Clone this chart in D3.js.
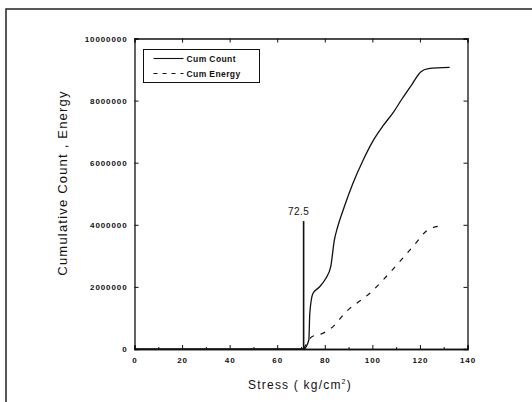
<!DOCTYPE html>
<html>
<head>
<meta charset="utf-8">
<script src="https://cdn.jsdelivr.net/npm/d3@7"></script>
<style>
  body { margin: 0; background: #fff; }
  text { font-family: "Liberation Sans", Arial, sans-serif; fill: #111; }
</style>
</head>
<body>
<svg id="chart" width="532" height="402"></svg>
<script>
'use strict';

/* data */
var countX = [0, 71.1, 73.3, 73.7, 75.0, 77.5, 80.4, 82.5, 84.0, 85.4, 88.2, 91.8, 96.1, 100.4, 104.6, 108.9, 112.5, 116.8, 120.3, 123.5, 132.5];
var countY = [0, 0, 290000, 1150000, 1790000, 1980000, 2270000, 2650000, 3500000, 3930000, 4580000, 5330000, 6080000, 6720000, 7200000, 7630000, 8060000, 8540000, 8920000, 9030000, 9070000];
var energyX = [71.1, 74.7, 79.0, 82.5, 89.0, 99.6, 108.9, 117.5, 123.2, 128.2];
var energyY = [0, 400000, 500000, 660000, 1200000, 1840000, 2590000, 3340000, 3830000, 3960000];
var xTicks = [0, 20, 40, 60, 80, 100, 120, 140];
var yTicks = [0, 2000000, 4000000, 6000000, 8000000, 10000000];
var seriesNames = ['Cum  Count', 'Cum  Energy'];
var markerX = 71.1, markerTop = 4120000, markerLabel = '72.5';

var svg = d3.select('#chart');

// outer frame of the figure: only left and top edges show
svg.append('path')
  .attr('d', 'M6,402V9H532')
  .attr('fill', 'none').attr('stroke', '#222').attr('stroke-width', 1.5);

var plotLeft = 134.5, plotRight = 467.5, plotTop = 38.5, plotBottom = 349;

var x = d3.scaleLinear().domain([0, 140]).range([plotLeft, plotRight]);
var y = d3.scaleLinear().domain([0, 10000000]).range([plotBottom, plotTop]);

var g = svg.append('g');

// axes, ticks inward
g.append('g').attr('transform', 'translate(0,' + plotBottom + ')')
  .call(d3.axisBottom(x).tickValues(xTicks).tickSize(-4).tickPadding(8).tickFormat(d3.format('d')));
g.append('g').attr('transform', 'translate(0,' + plotBottom + ')')
  .call(d3.axisBottom(x).tickValues(d3.range(10, 140, 20)).tickSize(-2).tickFormat(''));
g.append('g').attr('transform', 'translate(0,' + plotTop + ')')
  .call(d3.axisTop(x).tickValues(xTicks).tickSize(-4).tickFormat(''));
g.append('g').attr('transform', 'translate(' + plotLeft + ',0)')
  .call(d3.axisLeft(y).tickValues(yTicks).tickSize(-4).tickPadding(7).tickFormat(d3.format('d')));
g.append('g').attr('transform', 'translate(' + plotRight + ',0)')
  .call(d3.axisRight(y).tickValues(yTicks).tickSize(-4).tickFormat(''));

g.selectAll('.domain').attr('stroke', '#111').attr('stroke-width', 1.3);
g.selectAll('.tick line').attr('stroke', '#111');
g.selectAll('.tick text')
  .style('font-size', '8px').style('font-weight', 'bold').style('letter-spacing', '0.9px')
  .attr('fill', '#111');

// axis titles
svg.append('text')
  .attr('transform', 'translate(67,183) rotate(-90)')
  .attr('text-anchor', 'middle')
  .style('font-size', '13px')
  .style('letter-spacing', '1.2px')
  .text('Cumulative Count , Energy');

var xt = svg.append('text')
  .attr('x', 300).attr('y', 389)
  .attr('text-anchor', 'middle')
  .style('font-size', '12px')
  .style('letter-spacing', '1.2px');
xt.append('tspan').text('Stress  ( kg/cm');
xt.append('tspan').attr('dy', -5).style('font-size', '7px').text('2');
xt.append('tspan').attr('dy', 5).text(')');

// series
var line = d3.line()
  .curve(d3.curveMonotoneX)
  .x(function(d) { return x(d[0]); })
  .y(function(d) { return y(d[1]); });

svg.append('path')
  .datum(d3.zip(countX, countY))
  .attr('d', line)
  .attr('fill', 'none').attr('stroke', '#111').attr('stroke-width', 1.3);

svg.append('path')
  .datum(d3.zip(energyX, energyY))
  .attr('d', line)
  .attr('fill', 'none').attr('stroke', '#111').attr('stroke-width', 1.2)
  .attr('stroke-dasharray', '5,7');

// marker at onset
svg.append('line')
  .attr('x1', x(markerX)).attr('x2', x(markerX))
  .attr('y1', y(0)).attr('y2', y(markerTop))
  .attr('stroke', '#111').attr('stroke-width', 1.6);
svg.append('text')
  .attr('x', x(markerX) - 5).attr('y', y(markerTop) - 6)
  .attr('text-anchor', 'middle')
  .style('font-size', '10px')
  .style('letter-spacing', '0.5px')
  .text(markerLabel);

// legend
var lg = svg.append('g').attr('transform', 'translate(143.5,49.5)');
lg.append('rect').attr('width', 116).attr('height', 33)
  .attr('fill', '#fff').attr('stroke', '#111').attr('stroke-width', 1);
seriesNames.forEach(function(name, i) {
  var ly = 9 + i * 15;
  lg.append('line')
    .attr('x1', 10).attr('x2', 40).attr('y1', ly).attr('y2', ly)
    .attr('stroke', '#111').attr('stroke-width', 1.1)
    .attr('stroke-dasharray', i === 1 ? '4,5' : null);
  lg.append('text')
    .attr('x', 43).attr('y', ly + 3)
    .style('font-size', '8.5px').style('font-weight', 'bold')
    .style('letter-spacing', '0.4px')
    .text(name);
});
</script>
</body>
</html>
